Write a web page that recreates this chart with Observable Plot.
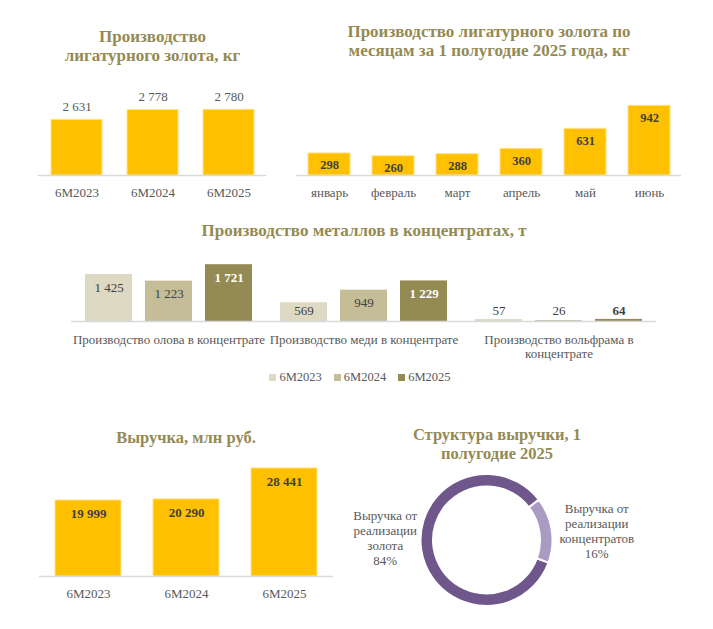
<!DOCTYPE html>
<html><head><meta charset="utf-8">
<script src="https://cdn.jsdelivr.net/npm/d3@7"></script>
<script src="https://cdn.jsdelivr.net/npm/@observablehq/plot@0.6"></script>
<style>
body{margin:0;background:#fff;}
#root{position:relative;width:713px;height:629px;overflow:hidden;font-family:"Liberation Serif","DejaVu Serif",serif;}
.title{position:absolute;font-weight:bold;color:#948A54;text-align:center;line-height:19px;font-size:17px;}
.panel{position:absolute;}
.panel svg{background:transparent !important;}
#legend3{position:absolute;left:66px;top:361px;width:600px;display:flex;justify-content:center;}
#legend3 > div{font-family:"Liberation Serif","DejaVu Serif",serif !important;font-size:12.5px !important;color:#595959 !important;margin:0 !important;}
#legend3 > div > span{margin-right:12px !important;}
#legend3 > div > span > svg{margin-right:3px !important;}
</style></head>
<body><div id="root"></div>
<script>
// ---- data ----
const goldPeriods = ["6M2023", "6M2024", "6M2025"];
const goldKg = [2631, 2778, 2780];
const months = ["январь", "февраль", "март", "апрель", "май", "июнь"];
const monthKg = [298, 260, 288, 360, 631, 942];
const metals = ["Производство олова в концентрате", "Производство меди в концентрате", "Производство вольфрама в концентрате"];
const metalPeriods = ["6M2023", "6M2024", "6M2025"];
const tinT = [1425, 1223, 1721];
const copperT = [569, 949, 1229];
const tungstenT = [57, 26, 64];
const revenuePeriods = ["6M2023", "6M2024", "6M2025"];
const revenueMln = [19999, 20290, 28441];
const revenueParts = ["Выручка от реализации золота", "Выручка от реализации концентратов"];
const revenueShare = [84, 16];
const titles = ["Производство лигатурного золота, кг", "Производство лигатурного золота по месяцам за 1 полугодие 2025 года, кг", "Производство металлов в концентратах, т", "Выручка, млн руб.", "Структура выручки, 1 полугодие 2025"];

// ---- helpers ----
const FONT = '"Liberation Serif","DejaVu Serif",serif';
const GOLD = "#FFC000", GOLDEDGE = "#FFE38A", AXIS = "#D9D9D9", TXT = "#595959", DARK = "#404040";
const metalColors = ["#DDD9C3", "#C4BD97", "#948A54"];
const donutColors = ["#6F578C", "#A99BC2"];
const fmt = d3.formatLocale({decimal: ",", thousands: "\u00a0", grouping: [3], currency: ["", ""]}).format(",d");
function wrap(s, max) {
  const words = s.split(" "); const lines = []; let cur = "";
  for (const w of words) {
    if (cur && (cur + " " + w).length > max) { lines.push(cur); cur = w; }
    else cur = cur ? cur + " " + w : w;
  }
  if (cur) lines.push(cur);
  return lines.join("\n");
}
const root = document.getElementById("root");
function place(el, left, top) {
  const d = document.createElement("div"); d.className = "panel";
  d.style.left = left + "px"; d.style.top = top + "px"; d.appendChild(el); root.appendChild(d);
}
function title(html, left, top, width, size) {
  const d = document.createElement("div"); d.className = "title";
  d.style.left = left + "px"; d.style.top = top + "px"; d.style.width = width + "px";
  if (size) d.style.fontSize = size + "px";
  d.innerHTML = html; root.appendChild(d);
}
const baseStyle = {fontFamily: FONT, fontSize: "13px", color: TXT, background: "transparent", overflow: "visible"};

// ---- titles ----
title("Производство<br>лигатурного золота, кг", 0, 27, 305);
title("Производство лигатурного золота по<br>месяцам за 1 полугодие 2025 года, кг", 289, 22, 400);
title(titles[2], 164, 221, 400);
title(titles[3], 36, 428, 300, 16.5);
title("Структура выручки, 1<br>полугодие 2025", 347, 425, 300, 16.5);

// ---- panel 1 ----
const goldData = goldPeriods.map((p, i) => ({period: p, value: goldKg[i]}));
place(Plot.plot({
  width: 290, height: 150, marginLeft: 38, marginRight: 24, marginTop: 48, marginBottom: 35,
  style: baseStyle,
  x: {domain: goldPeriods, paddingInner: 0.33, paddingOuter: 0.165, label: null},
  y: {domain: [1800, 2800], axis: null},
  marks: [
    Plot.barY(goldData, {x: "period", y1: 1800, y2: "value", fill: GOLD, stroke: GOLDEDGE, strokeWidth: 1}),
    Plot.ruleY([1800], {stroke: AXIS, strokeWidth: 1.5}),
    Plot.text(goldData, {x: "period", y: "value", text: d => fmt(d.value), dy: -13, fontSize: 13, fill: TXT}),
    Plot.axisX({tickSize: 0, tickPadding: 12, fontSize: 13, label: null})
  ]
}), 0, 60);

// ---- panel 2 ----
const monthData = months.map((m, i) => ({month: m, value: monthKg[i]}));
place(Plot.plot({
  width: 428, height: 150, marginLeft: 11, marginRight: 32, marginTop: 41, marginBottom: 35,
  style: baseStyle,
  x: {domain: months, paddingInner: 0.345, paddingOuter: 0.1725, label: null},
  y: {domain: [0, 1000], axis: null},
  marks: [
    Plot.barY(monthData, {x: "month", y: "value", fill: GOLD, stroke: GOLDEDGE, strokeWidth: 1}),
    Plot.ruleY([0], {stroke: AXIS, strokeWidth: 1.5}),
    Plot.text(monthData, {x: "month", y: "value", text: d => fmt(d.value), dy: 12, fontSize: 12.5, fontWeight: "bold", fill: DARK}),
    Plot.axisX({tickSize: 0, tickPadding: 12, fontSize: 13, label: null})
  ]
}), 285, 60);

// ---- panel 3 ----
const metalSeries = [tinT, copperT, tungstenT];
const metalData = metals.flatMap((m, i) => metalPeriods.map((p, j) => ({metal: m, period: p, value: metalSeries[i][j]})));
const inside = metalData.filter(d => d.value >= 700);
const outside = metalData.filter(d => d.value < 700);
const lbl = {fx: "metal", x: "period", text: d => fmt(d.value), fontSize: 13};
place(Plot.plot({
  width: 713, height: 135, marginLeft: 71, marginRight: 57, marginTop: 15, marginBottom: 54,
  style: baseStyle,
  fx: {domain: metals, padding: 0, label: null},
  x: {domain: metalPeriods, paddingInner: 0.21, paddingOuter: 0.21, axis: null},
  y: {domain: [0, 2000], axis: null},
  color: {domain: metalPeriods, range: metalColors},
  marks: [
    Plot.barY(metalData, {fx: "metal", x: "period", y: "value", fill: "period"}),
    Plot.ruleY([0], {stroke: AXIS, strokeWidth: 1.5}),
    Plot.text(inside.filter(d => d.period !== "6M2025"), {...lbl, y: "value", dy: 13, fill: DARK}),
    Plot.text(inside.filter(d => d.period === "6M2025"), {...lbl, y: "value", dy: 13, fill: "white", fontWeight: "bold"}),
    Plot.text(outside.filter(d => d.period !== "6M2025"), {...lbl, y: 0, dy: -11, fill: DARK}),
    Plot.text(outside.filter(d => d.period === "6M2025"), {...lbl, y: 0, dy: -11, fill: DARK, fontWeight: "bold"}),
    Plot.axisFx({anchor: "bottom", tickSize: 0, tickPadding: 12, fontSize: 13, lineHeight: 1.1, tickFormat: d => wrap(d, 33), label: null})
  ]
}), 0, 240);
const leg = Plot.legend({color: {domain: metalPeriods, range: metalColors, type: "ordinal"}, legend: "swatches", swatchSize: 7});
const legWrap = document.createElement("div"); legWrap.id = "legend3"; legWrap.appendChild(leg); root.appendChild(legWrap);

// ---- panel 4 ----
const revData = revenuePeriods.map((p, i) => ({period: p, value: revenueMln[i]}));
place(Plot.plot({
  width: 350, height: 170, marginLeft: 39, marginRight: 17, marginTop: 22, marginBottom: 34,
  style: baseStyle,
  x: {domain: revenuePeriods, paddingInner: 0.327, paddingOuter: 0.1635, label: null},
  y: {domain: [0, 30000], axis: null},
  marks: [
    Plot.barY(revData, {x: "period", y: "value", fill: GOLD, stroke: GOLDEDGE, strokeWidth: 1}),
    Plot.ruleY([0], {stroke: AXIS, strokeWidth: 1.5}),
    Plot.text(revData, {x: "period", y: "value", text: d => fmt(d.value), dy: 13, fontSize: 13, fontWeight: "bold", fill: DARK}),
    Plot.axisX({tickSize: 0, tickPadding: 12, fontSize: 13, label: null})
  ]
}), 0, 440);

// ---- panel 5 (donut) ----
const shareData = revenueParts.map((p, i) => ({part: p, share: revenueShare[i]}));
function donut(index, scales, values, dims) {
  const cx = dims.marginLeft + (dims.width - dims.marginLeft - dims.marginRight) / 2;
  const cy = dims.marginTop + (dims.height - dims.marginTop - dims.marginBottom) / 2;
  const a0 = 110 * Math.PI / 180;
  const pie = d3.pie().sort(null).value(d => d.share).startAngle(a0).endAngle(a0 + 2 * Math.PI)(shareData);
  const outer = 66, inner = 53.5, rl = 107;
  const arc = d3.arc().innerRadius(inner).outerRadius(outer);
  const g = d3.create("svg:g").attr("transform", `translate(${cx},${cy})`);
  g.selectAll("path").data(pie).join("path").attr("d", arc)
    .attr("fill", (d, i) => donutColors[i]).attr("stroke", "white").attr("stroke-width", 2);
  const t = g.selectAll("text").data(pie).join("text")
    .attr("font-family", FONT).attr("font-size", 13).attr("fill", TXT).attr("text-anchor", "middle")
    .attr("transform", d => {
      const m = (d.startAngle + d.endAngle) / 2;
      return `translate(${rl * Math.sin(m) + 4.5},${-rl * Math.cos(m) * 0.2 - 5.5})`;
    });
  t.each(function (d) {
    const lines = wrap(d.data.part, 12).split("\n").concat([d.data.share + "%"]);
    const sel = d3.select(this);
    lines.forEach((L, k) => sel.append("tspan").attr("x", 0).attr("y", (k - (lines.length - 1) / 2) * 15).attr("dy", "0.35em").text(L));
  });
  return g.node();
}
place(Plot.plot({
  width: 383, height: 164, marginLeft: 0, marginRight: 70, marginTop: 0, marginBottom: 14,
  style: baseStyle,
  marks: [donut]
}), 330, 465);
</script>
</body></html>
